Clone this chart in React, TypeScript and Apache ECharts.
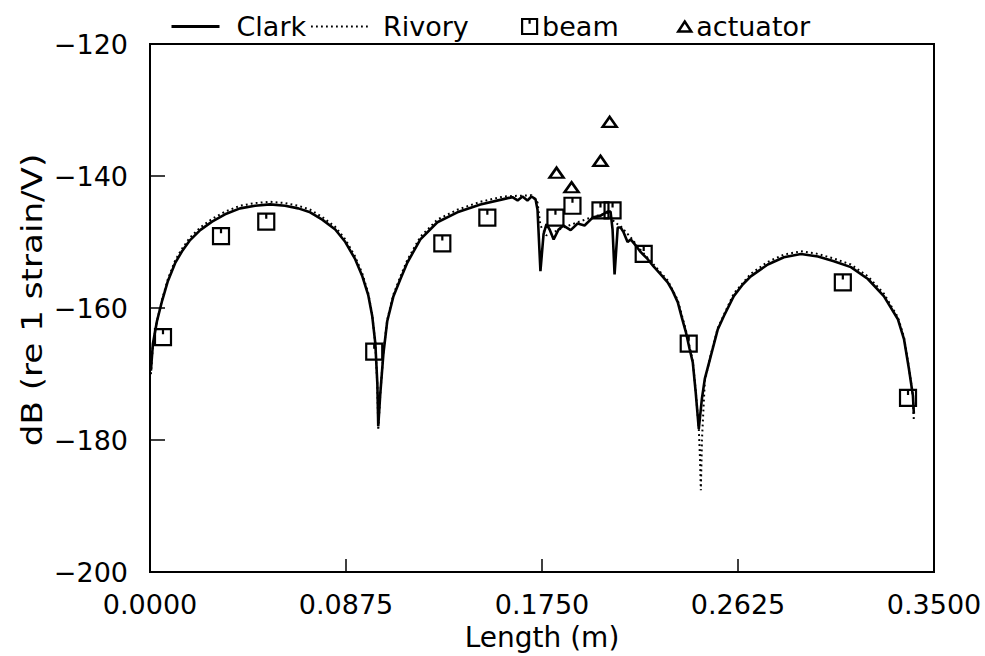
import React, { useEffect, useRef } from "react";
import * as echarts from "echarts";

// Strain response along the beam: two models (Clark, Rivory) and measurements
const clarkLength = [
  0.0004, 0.0013, 0.0031, 0.0054, 0.008, 0.0112, 0.0143, 0.0179, 0.0224, 0.0277,
  0.0335, 0.0402, 0.0469, 0.0536, 0.0603, 0.0662, 0.0715, 0.0769, 0.0827, 0.0872,
  0.0916, 0.0948, 0.0974, 0.0992, 0.1006, 0.1015, 0.1019, 0.1028, 0.1042, 0.1059,
  0.1086, 0.1118, 0.1149, 0.1207, 0.1283, 0.1372, 0.1475, 0.1578, 0.1618, 0.1641,
  0.1663, 0.1685, 0.1703, 0.1721, 0.173, 0.1743, 0.1757, 0.177, 0.1784, 0.1802,
  0.1824, 0.1846, 0.1878, 0.1909, 0.194, 0.1976, 0.2012, 0.2043, 0.2056, 0.2065,
  0.2074, 0.2088, 0.2101, 0.2114, 0.2132, 0.2146, 0.2168, 0.219, 0.2222, 0.2248,
  0.228, 0.2311, 0.2333, 0.2356, 0.2374, 0.2392, 0.2409, 0.2423, 0.2436, 0.245,
  0.2464, 0.2477, 0.2504, 0.2535, 0.2562, 0.2606, 0.2647, 0.2682, 0.2758, 0.283,
  0.2906, 0.2982, 0.3053, 0.3129, 0.3205, 0.3276, 0.3339, 0.3366, 0.3388, 0.3406,
  0.341,
];
const clarkDb = [
  -169.5, -165.4, -162.0, -158.9, -155.9, -153.2, -151.4, -149.7, -148.2, -146.9,
  -145.8, -144.9, -144.5, -144.3, -144.5, -144.9, -145.5, -146.6, -148.1, -150.0,
  -152.6, -155.2, -158.0, -161.2, -165.4, -171.5, -177.9, -173.0, -166.9, -162.0,
  -158.3, -155.6, -153.1, -149.6, -147.0, -145.5, -144.3, -143.5, -143.2, -143.7,
  -143.1, -143.7, -143.1, -143.5, -145.1, -154.4, -148.8, -147.3, -148.1, -149.6,
  -148.1, -147.5, -148.2, -147.2, -147.5, -146.3, -146.0, -145.4, -145.4, -148.1,
  -154.9, -147.8, -147.8, -148.5, -150.0, -149.6, -150.5, -151.5, -152.6, -153.7,
  -154.9, -156.1, -157.4, -159.1, -161.4, -163.6, -166.2, -168.2, -172.7, -178.3,
  -173.7, -170.7, -167.2, -163.2, -161.2, -158.2, -156.4, -155.2, -153.4, -152.3,
  -151.8, -152.2, -152.9, -153.8, -155.6, -158.2, -161.7, -164.7, -169.2, -173.3,
  -176.0,
];

const rivoryLength = [
  0.0004, 0.0013, 0.0031, 0.0054, 0.008, 0.0112, 0.0143, 0.0179, 0.0224, 0.0277,
  0.0335, 0.0402, 0.0469, 0.0536, 0.0603, 0.0662, 0.0715, 0.0769, 0.0827, 0.0872,
  0.0916, 0.0948, 0.0974, 0.0992, 0.1006, 0.1015, 0.1019, 0.1028, 0.1042, 0.1059,
  0.1086, 0.1118, 0.1149, 0.1207, 0.1283, 0.1372, 0.1475, 0.1578, 0.1641, 0.1703,
  0.173, 0.1743, 0.177, 0.1802, 0.1846, 0.1909, 0.1976, 0.2043, 0.2074, 0.2101,
  0.2146, 0.219, 0.2248, 0.2311, 0.2356, 0.2392, 0.2423, 0.2436, 0.245, 0.2455,
  0.2459, 0.2464, 0.2477, 0.2504, 0.2535, 0.2606, 0.2682, 0.2758, 0.283, 0.2906,
  0.2982, 0.3053, 0.3129, 0.3205, 0.3276, 0.3339, 0.3366, 0.3388, 0.3406, 0.341,
];
const rivoryDb = [
  -170.0, -165.6, -162.0, -158.7, -155.6, -152.8, -151.0, -149.3, -147.8, -146.5,
  -145.4, -144.5, -144.1, -143.9, -144.1, -144.5, -145.1, -146.2, -147.7, -149.6,
  -152.2, -154.8, -157.7, -161.0, -165.4, -171.8, -178.5, -173.0, -166.7, -161.8,
  -158.0, -155.2, -152.7, -149.2, -146.6, -145.1, -143.9, -143.1, -143.0, -142.9,
  -144.0, -147.5, -149.0, -148.5, -147.8, -147.0, -146.2, -145.6, -147.0, -147.6,
  -149.3, -151.2, -153.4, -155.8, -158.8, -163.3, -168.0, -172.5, -178.3, -182.5,
  -187.6, -180.0, -171.0, -167.0, -163.0, -157.8, -154.8, -153.0, -151.9, -151.4,
  -151.8, -152.5, -153.4, -155.2, -157.8, -161.4, -164.4, -169.0, -173.3, -177.2,
];

const beamLength = [
  0.0058, 0.0317, 0.0519, 0.1001, 0.1305, 0.1506, 0.181, 0.1886, 0.2011, 0.2065,
  0.2204, 0.2405, 0.3093, 0.3384,
];
const beamDb = [
  -164.4, -149.1, -146.9, -166.6, -150.2, -146.3, -146.3, -144.5, -145.2, -145.2,
  -151.8, -165.4, -156.1, -173.6,
];

const actuatorLength = [0.1815, 0.1882, 0.2011, 0.2052];
const actuatorDb = [-139.5, -141.7, -137.7, -131.8];

const xTicks = [0, 0.0875, 0.175, 0.2625, 0.35];
const yTicks = [-200, -180, -160, -140, -120];

const FONT = "DejaVu Sans";
const FONT_SIZE = 27;
const BOX_SYMBOL = "path://M0,0 L10,0 L10,10 L0,10 Z M5,0 L5,3.2";

const pairs = (xs: number[], ys: number[]) => xs.map((x, i) => [x, ys[i]]);

export default function App() {
  const ref = useRef<HTMLDivElement>(null);

  useEffect(() => {
    document.body.style.margin = "0";
    if (!ref.current) return;
    const chart = echarts.init(ref.current, undefined, { renderer: "svg" });

    const legendText = { fontFamily: FONT, fontSize: FONT_SIZE, color: "#000" };
    // line-series legend entries: keep only the stroke, hide the marker dot
    const hiddenDot = { color: "rgba(0,0,0,0)", borderWidth: 0, opacity: 0 };

    chart.setOption({
      animation: false,
      backgroundColor: "#fff",
      grid: {
        left: 150,
        right: 51,
        top: 44,
        bottom: 82,
        show: true,
        borderColor: "#000",
        borderWidth: 2,
        backgroundColor: "transparent",
      },
      legend: [
        {
          data: ["Clark"],
          left: 165,
          top: 8,
          itemWidth: 48,
          itemHeight: 14,
          itemStyle: hiddenDot,
          lineStyle: { width: 3 },
          textStyle: { ...legendText, padding: [0, 0, 0, 12] },
        },
        {
          data: ["Rivory"],
          left: 305,
          top: 8,
          itemWidth: 60,
          itemHeight: 14,
          itemStyle: hiddenDot,
          textStyle: { ...legendText, padding: [0, 0, 0, 7] },
        },
        {
          data: ["beam"],
          left: 516,
          top: 8,
          itemWidth: 15,
          itemHeight: 15,
          icon: BOX_SYMBOL,
          itemStyle: { color: "rgba(255,255,255,0)", borderColor: "#000", borderWidth: 2.2, opacity: 1 },
          textStyle: { ...legendText },
        },
        {
          data: ["actuator"],
          left: 672,
          top: 8,
          itemWidth: 13,
          itemHeight: 10,
          icon: "triangle",
          itemStyle: { color: "#fff", borderColor: "#000", borderWidth: 2.5, opacity: 1 },
          textStyle: { ...legendText },
        },
      ],
      xAxis: {
        type: "value",
        min: xTicks[0],
        max: xTicks[xTicks.length - 1],
        interval: xTicks[1] - xTicks[0],
        name: "Length (m)",
        nameLocation: "middle",
        nameGap: 44,
        nameTextStyle: { fontFamily: FONT, fontSize: 28, color: "#000" },
        axisLine: { show: true, lineStyle: { color: "#000", width: 2 } },
        axisTick: { show: true, inside: true, length: 13, lineStyle: { color: "#000", width: 1.5 } },
        axisLabel: {
          margin: 19,
          fontFamily: FONT,
          fontSize: FONT_SIZE,
          color: "#000",
          formatter: (v: number) => v.toFixed(4),
        },
        splitLine: { show: false },
      },
      yAxis: {
        type: "value",
        min: yTicks[0],
        max: yTicks[yTicks.length - 1],
        interval: yTicks[1] - yTicks[0],
        axisLine: { show: true, lineStyle: { color: "#000", width: 2 } },
        axisTick: { show: true, inside: true, length: 15, lineStyle: { color: "#000", width: 1.5 } },
        axisLabel: {
          margin: 22,
          fontFamily: FONT,
          fontSize: FONT_SIZE,
          color: "#000",
          formatter: (v: number) => String(v).replace("-", "\u2212"),
        },
        splitLine: { show: false },
      },
      graphic: [
        {
          type: "text",
          x: 32,
          y: 300,
          rotation: Math.PI / 2,
          scaleX: 1.22,
          style: {
            text: "dB (re 1 strain/V)",
            fontFamily: FONT,
            fontSize: 28,
            fill: "#000",
            align: "center",
            verticalAlign: "middle",
          },
        },
      ],
      series: [
        {
          name: "Clark",
          type: "line",
          data: pairs(clarkLength, clarkDb),
          symbol: "none",
          lineStyle: { color: "#000", width: 2.6 },
          itemStyle: { color: "#000" },
          z: 3,
        },
        {
          name: "Rivory",
          type: "line",
          data: pairs(rivoryLength, rivoryDb),
          symbol: "none",
          lineStyle: { color: "#000", width: 2, type: [1.8, 3.2] },
          itemStyle: { color: "#000" },
          z: 2,
        },
        {
          name: "beam",
          type: "scatter",
          data: pairs(beamLength, beamDb),
          symbol: BOX_SYMBOL,
          symbolSize: 16,
          itemStyle: { color: "rgba(255,255,255,0)", borderColor: "#000", borderWidth: 2.2, opacity: 1 },
          z: 4,
        },
        {
          name: "actuator",
          type: "scatter",
          data: pairs(actuatorLength, actuatorDb),
          symbol: "triangle",
          symbolSize: [14, 10],
          itemStyle: { color: "#fff", borderColor: "#000", borderWidth: 2.5, opacity: 1 },
          z: 4,
        },
      ],
    });

    return () => chart.dispose();
  }, []);

  return <div ref={ref} style={{ width: 985, height: 656 }} />;
}
